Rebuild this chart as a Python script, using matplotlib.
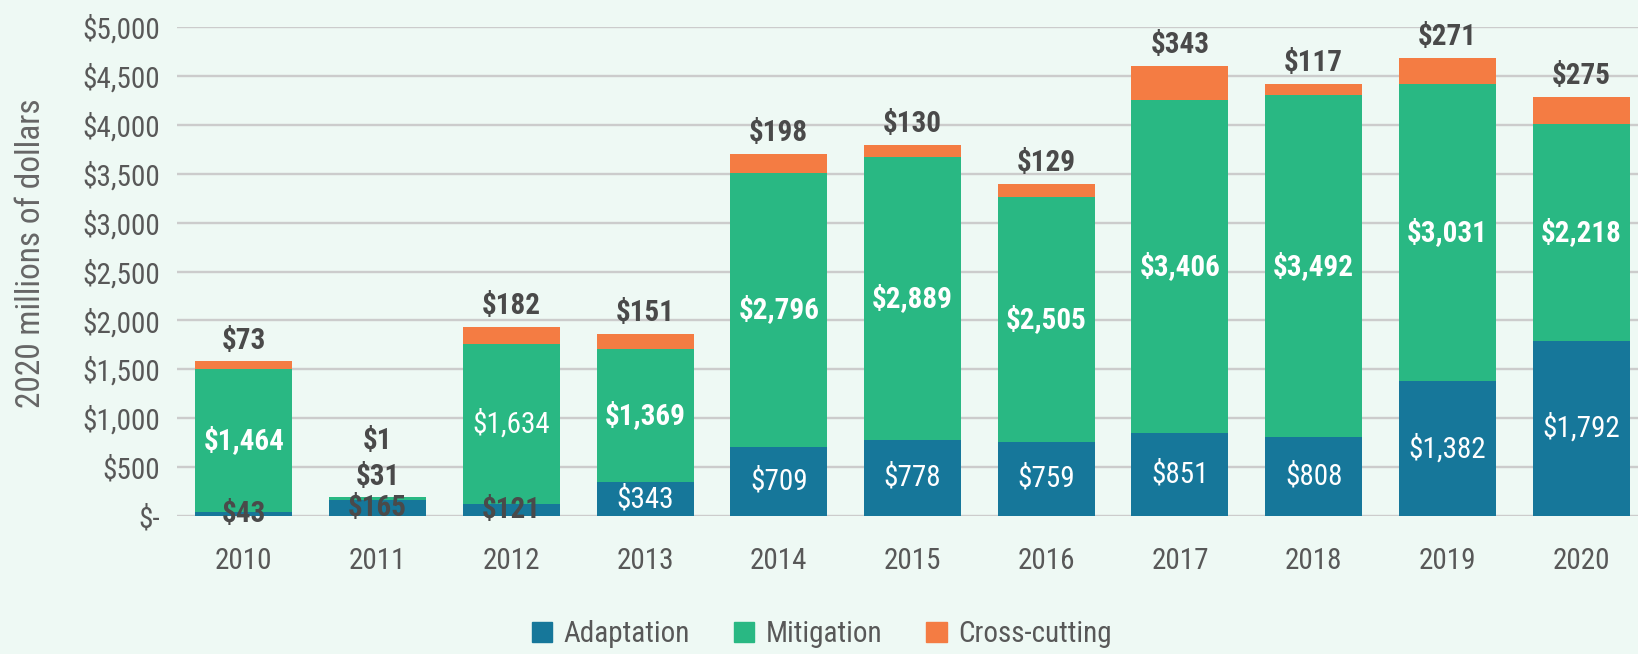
import matplotlib
matplotlib.use("Agg")
import matplotlib.pyplot as plt
from matplotlib import font_manager as fm
import numpy as np
from matplotlib.patches import Patch

# on cherche une police etroite parmi celles installees
polices = fm.fontManager.ttflist
noms = {f.name for f in polices}
etroite = None
for cand in ['Roboto Condensed', 'Liberation Sans Narrow', 'Open Sans Condensed', 'Noto Sans Condensed']:
    if cand in noms:
        etroite = cand
        break
etirement = 'normal'
if etroite is None:
    for f in polices:
        if f.name in ('DejaVu Sans', 'Roboto', 'Noto Sans', 'Open Sans') and f.stretch in ('condensed', 'semi-condensed', 'extra-condensed'):
            etroite = f.name
            etirement = f.stretch
            break
if etroite is None:
    etroite = 'Roboto' if 'Roboto' in noms else 'DejaVu Sans'
plt.rcParams['font.family'] = [etroite, 'DejaVu Sans']
plt.rcParams['font.stretch'] = etirement

# donnees (millions de dollars 2020)
annees = ['2010', '2011', '2012', '2013', '2014', '2015', '2016', '2017', '2018', '2019', '2020']
adaptation = [43, 165, 121, 343, 709, 778, 759, 851, 808, 1382, 1792]
mitigation = [1464, 31, 1634, 1369, 2796, 2889, 2505, 3406, 3492, 3031, 2218]
transversal = [73, 1, 182, 151, 198, 130, 129, 343, 117, 271, 275]
yticks = [0, 500, 1000, 1500, 2000, 2500, 3000, 3500, 4000, 4500, 5000]

c_adapt = '#16779a'
c_mitig = '#29b883'
c_cross = '#f47c43'
fond = '#eef9f4'
gris = '#585858'
taille = 21

fig = plt.figure(figsize=(16.38, 6.54), dpi=100, facecolor=fond)
ax = fig.add_axes([177/1638, 1-516/654, 1471/1638, 489/654], facecolor=fond)

x = np.arange(len(annees))
larg = 0.725
adapt = np.array(adaptation)
mitig = np.array(mitigation)
cross = np.array(transversal)

ax.bar(x, adapt, larg, color=c_adapt, zorder=3)
ax.bar(x, mitig, larg, bottom=adapt, color=c_mitig, zorder=3)
ax.bar(x, cross, larg, bottom=adapt + mitig, color=c_cross, zorder=3)

ax.set_xlim(-0.5, len(annees) - 0.5)
ax.set_ylim(0, 5000)
ax.set_yticks(yticks)
ax.set_yticklabels(['$-' if v == 0 else '${:,}'.format(v) for v in yticks])
ax.set_xticks(x)
ax.set_xticklabels(annees)
ax.tick_params(length=0, labelsize=taille, colors=gris)
ax.tick_params(axis='y', pad=12)
ax.tick_params(axis='x', pad=22)
ax.grid(axis='y', color='#cccccc', lw=1.7, zorder=0)
for s in ax.spines.values():
    s.set_visible(False)

def fmt(v):
    return '${:,}'.format(v)

for i in range(len(annees)):
    # adaptation
    if adapt[i] < 200:
        ax.text(x[i], adapt[i] / 2, fmt(adapt[i]), ha='center', va='center',
                fontsize=taille, fontweight='bold', color='#4a4a4a', zorder=5)
    else:
        ax.text(x[i], adapt[i] / 2, fmt(adapt[i]), ha='center', va='center',
                fontsize=taille, color='white', zorder=5)
    haut = adapt[i] + mitig[i] + cross[i]
    # mitigation
    if mitig[i] < 200:
        # trop petit : etiquette au-dessus de la barre
        ax.annotate(fmt(mitig[i]), xy=(x[i], haut), xytext=(0, 4), textcoords='offset points',
                    ha='center', va='bottom', fontsize=taille, fontweight='bold', color='#4a4a4a', zorder=5)
        decal = 30
    else:
        poids = 'normal' if i == 2 else 'bold'
        ax.text(x[i], adapt[i] + mitig[i] / 2, fmt(mitig[i]), ha='center', va='center',
                fontsize=taille, fontweight=poids, color='white', zorder=5)
        decal = 5
    # cross-cutting
    ax.annotate(fmt(cross[i]), xy=(x[i], haut), xytext=(0, decal), textcoords='offset points',
                ha='center', va='bottom', fontsize=taille, fontweight='bold', color='#4a4a4a', zorder=5)

fig.text(31/1638, 1-253/654, '2020 millions of dollars', rotation=90, ha='center', va='center',
         fontsize=24, color='#666666')

handles = [Patch(color=c_adapt, label='Adaptation'),
           Patch(color=c_mitig, label='Mitigation'),
           Patch(color=c_cross, label='Cross-cutting')]
fig.legend(handles=handles, loc='center', bbox_to_anchor=(822/1638, 1-634/654), ncol=3,
           frameon=False, fontsize=taille, labelcolor=gris, handlelength=0.7, handleheight=0.7,
           handletextpad=0.4, columnspacing=1.5)

fig.savefig('out.png', dpi=100, facecolor=fond)
